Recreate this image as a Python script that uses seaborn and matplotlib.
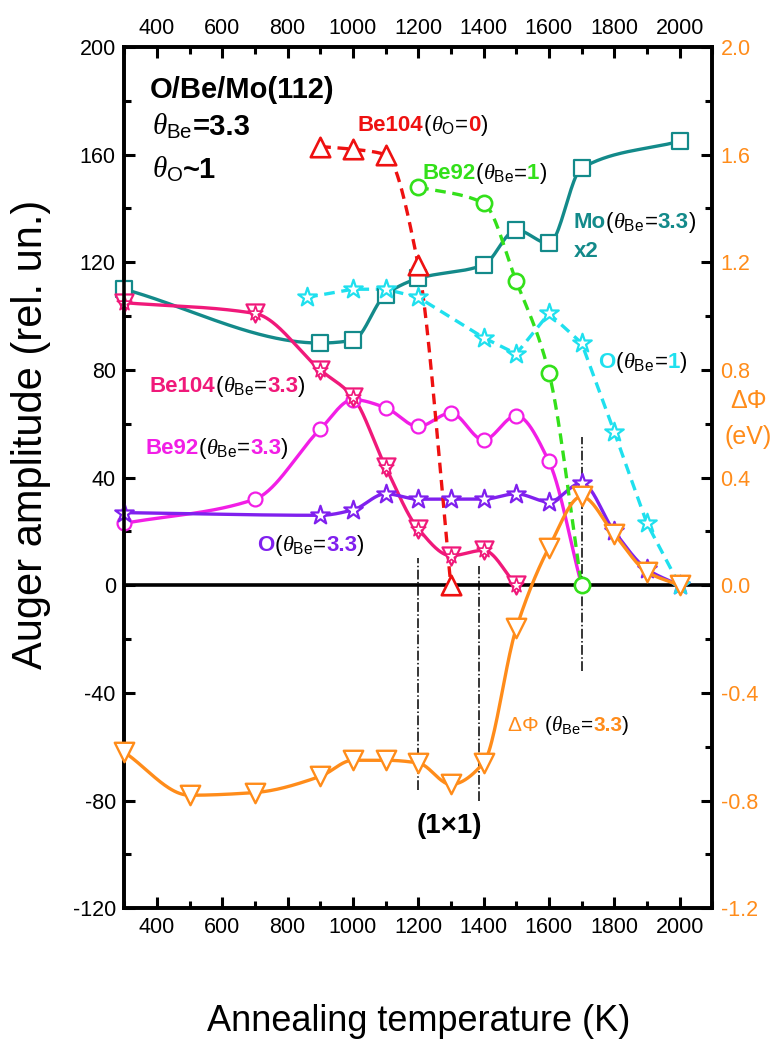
import numpy as np
import pandas as pd
import seaborn as sns
import matplotlib
matplotlib.use("Agg")
import matplotlib.pyplot as plt
from matplotlib.ticker import MultipleLocator, FormatStrFormatter
from matplotlib.offsetbox import TextArea, HPacker, AnnotationBbox

# ---------------- data ----------------
T_mo = [300, 900, 1000, 1100, 1200, 1400, 1500, 1600, 1700, 2000]
A_mo = [110, 90, 91, 108, 114, 119, 132, 127, 155, 165]

T_be104_o0 = [900, 1000, 1100, 1200, 1300]
A_be104_o0 = [163, 162, 160, 119, 0]

T_be92_1 = [1200, 1400, 1500, 1600, 1700]
A_be92_1 = [148, 142, 113, 79, 0]

T_o_1 = [860, 1000, 1100, 1200, 1400, 1500, 1600, 1700, 1800, 1900, 2000]
A_o_1 = [107, 110, 110, 107, 92, 86, 101, 90, 57, 23, 0]

T_be104_33 = [300, 700, 900, 1000, 1100, 1200, 1300, 1400, 1500]
A_be104_33 = [105, 101, 80, 70, 44, 21, 11, 13, 0]

T_be92_33 = [300, 700, 900, 1000, 1100, 1200, 1300, 1400, 1500, 1600, 1700]
A_be92_33 = [23, 32, 58, 69, 66, 59, 64, 54, 63, 46, 0]

T_o_33 = [300, 900, 1000, 1100, 1200, 1300, 1400, 1500, 1600, 1700, 1800, 1900, 2000]
A_o_33 = [27, 26, 28, 34, 32, 32, 32, 34, 31, 38, 20, 6, 0]

T_dphi = [300, 500, 700, 900, 1000, 1100, 1200, 1300, 1400, 1500, 1600, 1700, 1800, 1900, 2000]
dphi = [-0.62, -0.78, -0.77, -0.71, -0.65, -0.65, -0.66, -0.74, -0.66, -0.16, 0.14, 0.33, 0.19, 0.05, 0.0]

# vertical dash-dot guide lines
guide_T = [1200, 1385, 1700]
guide_top = [10, 7, 55]
guide_bottom = [-76, -80, -32]

x_ticks = [400, 600, 800, 1000, 1200, 1400, 1600, 1800, 2000]

# colours
C_RED = "#ee1111"
C_GREEN = "#33e01a"
C_TEAL = "#138a8a"
C_CYAN = "#1fe0ee"
C_ROSE = "#f0197a"
C_MAG = "#f21ee6"
C_PURP = "#8020ee"
C_ORG = "#ff8c1a"

# ---------------- style ----------------
sns.set_theme(style="ticks")
plt.rcParams["font.family"] = ["Liberation Sans", "DejaVu Sans"]
plt.rcParams["mathtext.fontset"] = "custom"
plt.rcParams["mathtext.rm"] = "Liberation Sans"
plt.rcParams["mathtext.it"] = "Liberation Serif:italic"
plt.rcParams["mathtext.bf"] = "Liberation Sans:bold"
plt.rcParams["axes.unicode_minus"] = False
plt.rcParams["text.color"] = "black"
plt.rcParams["axes.labelcolor"] = "black"
plt.rcParams["xtick.color"] = "black"
plt.rcParams["ytick.color"] = "black"


def smooth_curve(x, y, n=400):
    """Monotone cubic Hermite curve through the data points (for drawing only)."""
    x = np.asarray(x, float)
    y = np.asarray(y, float)
    h = np.diff(x)
    d = np.diff(y) / h
    m = np.zeros_like(y)
    for k in range(1, len(x) - 1):
        if d[k - 1] * d[k] > 0:
            w1 = 2 * h[k] + h[k - 1]
            w2 = h[k] + 2 * h[k - 1]
            m[k] = (w1 + w2) / (w1 / d[k - 1] + w2 / d[k])
    m[0] = d[0]
    m[-1] = d[-1]
    xs = np.linspace(x[0], x[-1], n)
    idx = np.clip(np.searchsorted(x, xs) - 1, 0, len(h) - 1)
    t = (xs - x[idx]) / h[idx]
    h00 = 2 * t**3 - 3 * t**2 + 1
    h10 = t**3 - 2 * t**2 + t
    h01 = -2 * t**3 + 3 * t**2
    h11 = t**3 - t**2
    ys = h00 * y[idx] + h10 * h[idx] * m[idx] + h01 * y[idx + 1] + h11 * h[idx] * m[idx + 1]
    return xs, ys


fig = plt.figure(figsize=(7.81, 10.44), dpi=100)
ax = fig.add_axes([0.159, 0.130, 0.753, 0.825])
ax2 = ax.twinx()


def curve(axis, T, A, color, dashed=False, smooth=True, lw=2.4):
    if smooth:
        xs, ys = smooth_curve(T, A)
    else:
        xs, ys = np.asarray(T, float), np.asarray(A, float)
    df = pd.DataFrame({"T": xs, "A": ys})
    sns.lineplot(data=df, x="T", y="A", ax=axis, color=color, lw=lw,
                 estimator=None, sort=False, legend=False, zorder=2)
    if dashed:
        axis.lines[-1].set_dashes([3.2, 2.0])


def markers(axis, T, A, color, marker, size, lw=1.6):
    df = pd.DataFrame({"T": T, "A": A})
    sns.scatterplot(data=df, x="T", y="A", ax=axis, marker=marker, s=size**2,
                    color="white", edgecolor=color, linewidth=lw, zorder=4,
                    legend=False, clip_on=False)


# lines
curve(ax, T_mo, A_mo, C_TEAL)
curve(ax, T_be104_33, A_be104_33, C_ROSE)
curve(ax, T_be92_33, A_be92_33, C_MAG)
curve(ax, T_o_33, A_o_33, C_PURP)
curve(ax, T_be104_o0, A_be104_o0, C_RED, dashed=True)
curve(ax, T_be92_1, A_be92_1, C_GREEN, dashed=True)
curve(ax, T_o_1, A_o_1, C_CYAN, dashed=True, smooth=False)

ax.axhline(0, color="black", lw=2.6, zorder=3)
ax.vlines(guide_T, guide_bottom, guide_top, colors="black", linestyles="-.", lw=1.1, zorder=3)

# markers
markers(ax, T_mo, A_mo, C_TEAL, "s", 11)
markers(ax, T_be92_33, A_be92_33, C_MAG, "o", 10)
markers(ax, T_o_33, A_o_33, C_PURP, "*", 14)
markers(ax, T_be104_33, A_be104_33, C_ROSE, "v", 13)
markers(ax, T_be104_33, A_be104_33, C_ROSE, "*", 11, lw=1.2)
markers(ax, T_be104_o0, A_be104_o0, C_RED, "^", 14, lw=1.9)
markers(ax, T_be92_1, A_be92_1, C_GREEN, "o", 11, lw=1.9)
markers(ax, T_o_1, A_o_1, C_CYAN, "*", 14)

# delta phi on the right axis
curve(ax2, T_dphi, dphi, C_ORG)
markers(ax2, T_dphi, dphi, C_ORG, "v", 14, lw=1.7)

# ---------------- axes ----------------
ax.set_xlim(300, 2100)
ax.set_ylim(-120, 200)
ax2.set_ylim(-1.2, 2.0)
ax.set_xticks(x_ticks)
ax.xaxis.set_minor_locator(MultipleLocator(100))
ax.yaxis.set_major_locator(MultipleLocator(40))
ax.yaxis.set_minor_locator(MultipleLocator(20))
ax2.yaxis.set_major_locator(MultipleLocator(0.4))
ax2.yaxis.set_minor_locator(MultipleLocator(0.2))
ax2.yaxis.set_major_formatter(FormatStrFormatter("%.1f"))

ax.tick_params(which="both", direction="in", top=True, labeltop=True, right=False,
               width=2.2, labelsize=15.5, colors="black", pad=6)
ax.tick_params(which="major", length=8)
ax.tick_params(which="minor", length=5)
ax2.tick_params(which="both", direction="in", width=2.2, labelsize=15.5, colors="black",
                labelcolor=C_ORG, pad=6)
ax2.tick_params(which="major", length=8)
ax2.tick_params(which="minor", length=5)
for a in (ax, ax2):
    for s in a.spines.values():
        s.set_linewidth(2.6)
        s.set_color("black")
ax2.set_ylabel("")

ax.set_xlabel("Annealing temperature (K)", fontsize=26, labelpad=48, color="black")
ax.set_ylabel("Auger amplitude (rel. un.)", fontsize=30, color="black")
ax.yaxis.set_label_coords(-0.125, 0.55)

ax2.text(2210, 0.685, "ΔΦ", color=C_ORG, fontsize=18, ha="center", va="center", clip_on=False)
ax2.text(2210, 0.55, "(eV)", color=C_ORG, fontsize=18, ha="center", va="center", clip_on=False)


# ---------------- rich text labels ----------------
def rich(x, y, parts, size=16):
    areas = []
    for txt, col, wt in parts:
        areas.append(TextArea(txt, textprops=dict(color=col, fontweight=wt, fontsize=size)))
    box = HPacker(children=areas, align="baseline", pad=0, sep=0)
    ab = AnnotationBbox(box, (x, y), xycoords="data", frameon=False,
                        box_alignment=(0, 0), pad=0, annotation_clip=False, zorder=6)
    ax.add_artist(ab)


TH_BE = r"$\theta_{\mathrm{Be}}$"
TH_O = r"$\theta_{\mathrm{O}}$"
K = "black"

rich(378, 179, [("O/Be/Mo(112)", K, "bold")], size=21)
rich(385, 165, [(TH_BE, K, "normal"), ("=3.3", K, "bold")], size=21)
rich(385, 149, [(TH_O, K, "normal"), ("~1", K, "bold")], size=21)

rich(1015, 167, [("Be104", C_RED, "bold"), ("(", K, "normal"), (TH_O, K, "normal"),
                 ("=", K, "normal"), ("0", C_RED, "bold"), (")", K, "normal")])
rich(1212, 149, [("Be92", C_GREEN, "bold"), ("(", K, "normal"), (TH_BE, K, "normal"),
                 ("=", K, "normal"), ("1", C_GREEN, "bold"), (")", K, "normal")])
rich(1676, 131, [("Mo", C_TEAL, "bold"), ("(", K, "normal"), (TH_BE, K, "normal"),
                 ("=", K, "normal"), ("3.3", C_TEAL, "bold"), (")", K, "normal")])
rich(1676, 120, [("x2", C_TEAL, "bold")])
rich(1752, 79, [("O", C_CYAN, "bold"), ("(", K, "normal"), (TH_BE, K, "normal"),
                ("=", K, "normal"), ("1", C_CYAN, "bold"), (")", K, "normal")])
rich(378, 70, [("Be104", C_ROSE, "bold"), ("(", K, "normal"), (TH_BE, K, "normal"),
               ("=", K, "normal"), ("3.3", C_ROSE, "bold"), (")", K, "normal")])
rich(364, 47, [("Be92", C_MAG, "bold"), ("(", K, "normal"), (TH_BE, K, "normal"),
               ("=", K, "normal"), ("3.3", C_MAG, "bold"), (")", K, "normal")])
rich(707, 11, [("O", C_PURP, "bold"), ("(", K, "normal"), (TH_BE, K, "normal"),
               ("=", K, "normal"), ("3.3", C_PURP, "bold"), (")", K, "normal")])
rich(1475, -56, [("ΔΦ ", C_ORG, "normal"), ("(", K, "normal"), (TH_BE, K, "normal"),
                 ("=", K, "normal"), ("3.3", C_ORG, "bold"), (")", K, "normal")], size=15)

ax.text(1296, -92, "(1×1)", fontsize=20, fontweight="bold", ha="center", va="baseline", zorder=6)

fig.savefig("out.png", dpi=100)
